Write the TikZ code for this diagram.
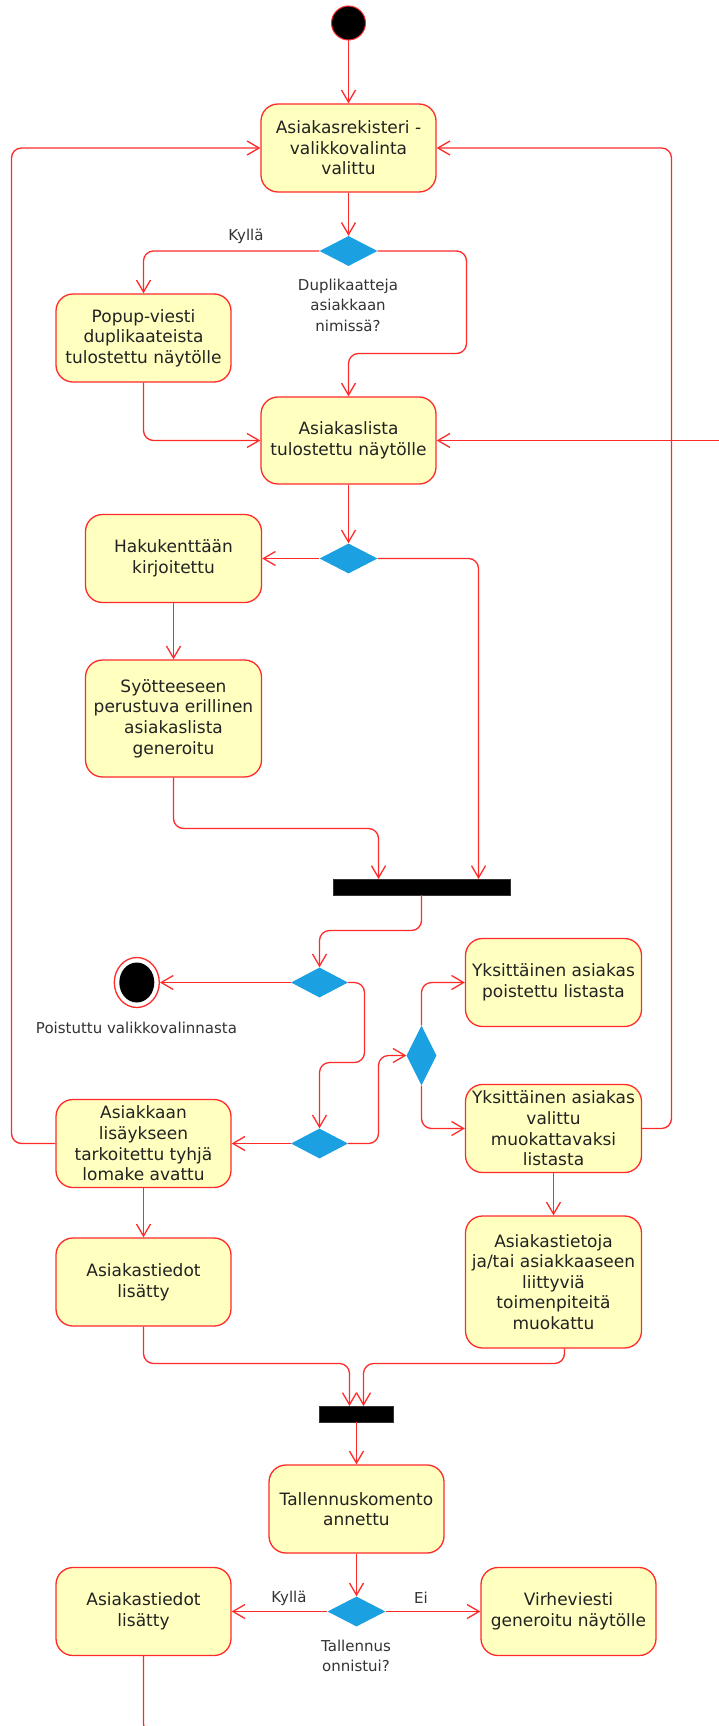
\documentclass[tikz,border=0pt]{standalone}
\usepackage{fontspec}
\setmainfont{DejaVu Sans}
\usetikzlibrary{arrows.meta,shapes.geometric,calc}

\definecolor{flowred}{HTML}{FF2A2A}
\definecolor{actfill}{HTML}{FFFFC0}
\definecolor{decblue}{HTML}{1BA1E2}
\definecolor{boxtext}{HTML}{222222}
\definecolor{labeltext}{HTML}{333333}

\tikzset{
  activity/.style={draw=flowred, fill=actfill, line width=1.3pt, rounded corners=17pt,
    minimum width=175pt, minimum height=88pt, inner sep=0pt, align=center,
    text=boxtext, font=\fontsize{17}{20.6}\selectfont},
  decision/.style={diamond, fill=decblue, draw=none, inner sep=0pt,
    minimum width=58pt, minimum height=30pt},
  syncbar/.style={rectangle, fill=black, draw=black!80, inner sep=0pt, minimum height=16pt},
  guard/.style={align=center, text=labeltext, inner sep=0pt,
    font=\fontsize{15}{20.5}\selectfont},
  flow/.style={draw=flowred, line width=1.3pt, rounded corners=10pt,
    -{Straight Barb[length=12pt,width=14pt]}},
  plainflow/.style={draw=flowred, line width=1.3pt, rounded corners=10pt},
}

\begin{document}
\begin{tikzpicture}[x=1pt, y=-1pt]
  % canvas
  \fill[white] (0,0) rectangle (718,1726);
  \useasboundingbox (0,0) rectangle (718,1726);

  % start
  \node[circle, fill=black, draw=flowred, line width=1pt, minimum size=34pt, inner sep=0pt] (start) at (348.5,23) {};

  % activities
  \node[activity] (b1) at (348.5,148) {Asiakasrekisteri -\\valikkovalinta\\valittu};
  \node[decision] (d1) at (348.5,251) {};
  \node[guard] (kyl1) at (246,236) {Kyllä};
  \node[guard] (q1) at (348,305) {Duplikaatteja\\asiakkaan\\nimissä?};
  \node[activity] (b2) at (143.5,338) {Popup-viesti\\duplikaateista\\tulostettu näytölle};
  \node[activity, minimum height=87pt] (b3) at (348.5,440.5) {Asiakaslista\\tulostettu näytölle};

  \node[decision] (d2) at (348.5,558.5) {};
  \node[activity, minimum width=176pt] (b4) at (173.5,558.5) {Hakukenttään\\kirjoitettu};
  \node[activity, minimum width=176pt, minimum height=117pt] (b5) at (173.5,718.5)
    {Syötteeseen\\perustuva erillinen\\asiakaslista\\generoitu};

  \node[syncbar, minimum width=177pt] (bar1) at (421.5,887) {};
  \coordinate (j1a) at (378.5,879);
  \coordinate (j1b) at (478.5,879);

  \node[decision, minimum width=57pt] (d3) at (319.5,982.5) {};
  \node[ellipse, draw=flowred, fill=white, line width=1.3pt, minimum width=45pt, minimum height=50pt, inner sep=0pt] (endst) at (136.8,982.5) {};
  \node[ellipse, fill=black, minimum width=35pt, minimum height=40pt, inner sep=0pt] (endcore) at (136.8,982.5) {};
  \node[guard] (exitlbl) at (136.5,1028) {Poistuttu valikkovalinnasta};

  \node[decision, minimum width=57pt] (d4) at (319.5,1143.5) {};
  \node[activity] (b6) at (143.5,1143.5) {Asiakkaan\\lisäykseen\\tarkoitettu tyhjä\\lomake avattu};
  \node[decision, minimum width=30pt, minimum height=60pt] (d5) at (421.5,1055.5) {};
  \node[activity, minimum width=176pt] (b7) at (553.5,982.5) {Yksittäinen asiakas\\poistettu listasta};
  \node[activity, minimum width=176pt] (b8) at (553.5,1128.5) {Yksittäinen asiakas\\valittu\\muokattavaksi\\listasta};
  \node[activity, minimum width=176pt, minimum height=132pt] (b9) at (553.5,1282)
    {Asiakastietoja\\ja/tai asiakkaaseen\\liittyviä\\toimenpiteitä\\muokattu};
  \node[activity] (b10) at (143.5,1282) {Asiakastiedot\\lisätty};

  \node[syncbar, minimum width=74pt] (bar2) at (356.5,1414) {};
  \coordinate (j2a) at (349.5,1406);
  \coordinate (j2b) at (363.5,1406);

  \node[activity] (b11) at (356.5,1509) {Tallennuskomento\\annettu};
  \node[decision] (d6) at (356.5,1611.5) {};
  \node[activity] (b12) at (143.5,1611.5) {Asiakastiedot\\lisätty};
  \node[activity] (b13) at (568.5,1611.5) {Virheviesti\\generoitu näytölle};
  \node[guard] (kyl2) at (289,1598) {Kyllä};
  \node[guard] (ei) at (421,1598) {Ei};
  \node[guard] (q2) at (356,1656) {Tallennus\\onnistui?};

  % free ends
  \coordinate (rin) at (722,440.5);
  \coordinate (tail) at (175,1734);

  % connectors
  \draw[flow] (start) -- (b1.north);
  \draw[flow] (b1.south) -- (d1.north);
  \draw[flow] (d1.west) -| (b2.north);
  \draw[flow] (d1.east) -| (466.5,353.5) -| (b3.north);
  \draw[flow] (b2.south) |- (b3.west);
  \draw[flow] (rin) -- (b3.east);

  \draw[flow] (b3.south) -- (d2.north);
  \draw[flow] (d2.west) -- (b4.east);
  \draw[flow] (d2.east) -| (j1b);
  \draw[flow] (b4.south) -- (b5.north);
  \draw[flow] (b5.south) |- (378.5,828.5) -- (j1a);

  \draw[flow] (bar1.south) -- (421.5,930.5) -| (d3.north);
  \draw[flow] (d3.west) -- (endst.east);
  \draw[flow] (d3.east) -| (364.5,1062.5) -| (d4.north);
  \draw[flow] (d4.west) -- (b6.east);
  \draw[flow] (b6.west) -| (11.5,148) -- (b1.west);
  \draw[flow] (d4.east) -| (378.5,1055.5) -- (d5.west);
  \draw[flow] (d5.north) |- (b7.west);
  \draw[flow] (d5.south) |- (b8.west);
  \draw[flow] (b8.east) -| (671.5,148) -- (b1.east);
  \draw[flow] (b8.south) -- (b9.north);

  \draw[flow] (b6.south) -- (b10.north);
  \draw[flow] (b10.south) |- (349.5,1363.5) -- (j2a);
  \draw[flow] ($(b9.south)+(11,0)$) |- (363.5,1363.5) -- (j2b);
  \draw[flow] (bar2.south) -- (b11.north);
  \draw[flow] (b11.south) -- (d6.north);
  \draw[flow] (d6.west) -- (b12.east);
  \draw[flow] (d6.east) -- (b13.west);
  \draw[plainflow] (b12.south) |- (tail);
\end{tikzpicture}
\end{document}
